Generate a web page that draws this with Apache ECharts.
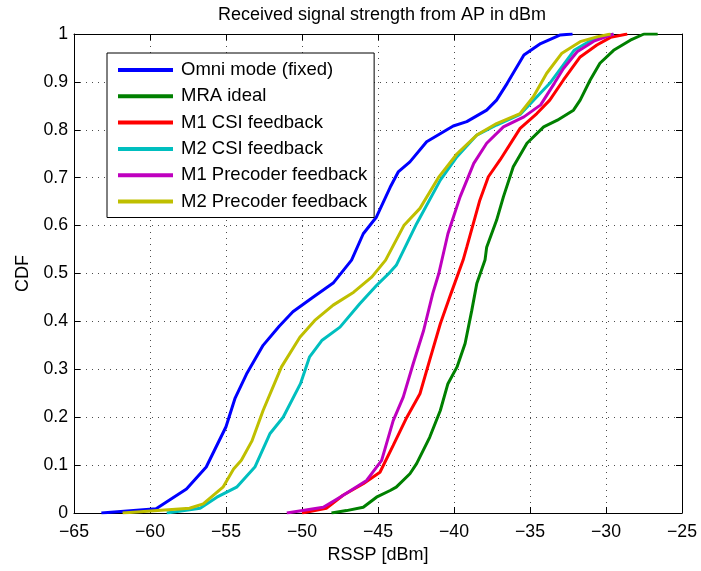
<!DOCTYPE html>
<html>
<head>
<meta charset="utf-8">
<script src="https://cdn.jsdelivr.net/npm/echarts@6/dist/echarts.min.js"></script>
<style>
html,body{margin:0;padding:0;background:#fff;}
#chart{width:701px;height:571px;}
</style>
</head>
<body>
<div id="chart"></div>
<script>
var titleText = 'Received signal strength from AP in dBm';
var xAxisName = 'RSSP [dBm]';
var yAxisName = 'CDF';
var seriesNames = ['Omni mode (fixed)', 'MRA ideal', 'M1 CSI feedback', 'M2 CSI feedback', 'M1 Precoder feedback', 'M2 Precoder feedback'];
var seriesColors = ['#0000ff', '#008000', '#ff0000', '#00bfbf', '#bf00bf', '#bfbf00'];

var omniX = [-63.2,-59.6,-57.6,-56.3,-55.0,-54.4,-53.65,-52.56,-51.5,-50.6,-49.3,-47.95,-46.74,-45.97,-45.1,-44.2,-43.67,-42.9,-41.8,-40.05,-39.16,-37.85,-37.2,-36.5,-35.4,-34.3,-33.0,-32.2];
var omniY = [0,0.009,0.05,0.096,0.18,0.24,0.29,0.35,0.39,0.42,0.45,0.48,0.528,0.583,0.618,0.68,0.712,0.733,0.775,0.808,0.817,0.841,0.862,0.897,0.956,0.98,0.998,1];

var mraX = [-48.06,-47.07,-45.97,-45.1,-44.2,-43.8,-42.9,-42.46,-41.6,-40.9,-40.4,-39.8,-39.27,-38.83,-38.5,-37.96,-37.85,-37.2,-36.75,-36.1,-35.2,-34.1,-33.2,-32.14,-31.7,-31.04,-30.4,-29.5,-28.4,-27.5,-26.6];
var mraY = [0,0.005,0.012,0.033,0.047,0.054,0.082,0.103,0.158,0.214,0.27,0.305,0.354,0.423,0.479,0.528,0.555,0.611,0.66,0.723,0.772,0.806,0.82,0.841,0.862,0.904,0.939,0.966,0.987,1,1];

var m1csiX = [-50.0,-48.4,-47.3,-45.97,-44.87,-44.0,-43.1,-42.24,-41.6,-40.9,-40.2,-39.4,-39.16,-38.3,-37.74,-36.97,-35.65,-34.55,-33.7,-32.8,-31.7,-30.6,-29.7,-28.6];
var m1csiY = [0,0.01,0.037,0.061,0.085,0.141,0.2,0.249,0.319,0.395,0.458,0.528,0.555,0.653,0.702,0.737,0.803,0.834,0.862,0.904,0.952,0.977,0.993,1];

var m2csiX = [-58.9,-56.7,-55.6,-54.3,-53.1,-52.1,-51.24,-50.1,-49.5,-48.7,-47.5,-46.2,-45.1,-44.2,-43.8,-42.46,-40.9,-39.8,-38.5,-37.2,-35.65,-33.7,-32.1,-30.8,-29.5];
var m2csiY = [0,0.01,0.033,0.054,0.096,0.166,0.2,0.27,0.326,0.36,0.388,0.437,0.475,0.503,0.517,0.604,0.695,0.744,0.789,0.81,0.832,0.897,0.966,0.99,1];

var m1preX = [-51.0,-48.6,-47.5,-45.75,-44.76,-44.0,-43.34,-42.68,-42.0,-41.4,-41.0,-40.4,-39.6,-38.7,-37.85,-36.75,-35.4,-34.3,-33.4,-32.8,-31.9,-30.8,-29.5];
var m1preY = [0,0.012,0.033,0.068,0.11,0.193,0.242,0.312,0.381,0.458,0.5,0.583,0.66,0.73,0.772,0.806,0.827,0.852,0.897,0.928,0.963,0.985,1];

var m2preX = [-61.8,-57.4,-56.5,-55.2,-54.5,-53.99,-53.3,-52.56,-51.35,-50.14,-49.16,-47.95,-46.6,-45.4,-44.5,-43.3,-42.24,-41.03,-39.8,-38.5,-37.2,-35.65,-34.78,-33.9,-32.9,-31.7,-30.6,-29.7];
var m2preY = [0,0.01,0.019,0.054,0.092,0.11,0.15,0.214,0.305,0.367,0.402,0.434,0.461,0.493,0.528,0.6,0.636,0.7,0.75,0.789,0.813,0.834,0.869,0.918,0.96,0.984,0.994,1];

var xTicks = [-65,-60,-55,-50,-45,-40,-35,-30,-25];
var yTicks = [0,0.1,0.2,0.3,0.4,0.5,0.6,0.7,0.8,0.9,1];

var allX = [omniX, mraX, m1csiX, m2csiX, m1preX, m2preX];
var allY = [omniY, mraY, m1csiY, m2csiY, m1preY, m2preY];

function zip(xs, ys){ var out=[]; for(var i=0;i<xs.length;i++) out.push([xs[i], ys[i]]); return out; }

var FONT = '"Liberation Sans", Arial, Helvetica, sans-serif';
var chart = echarts.init(document.getElementById('chart'));

var series = seriesNames.map(function(n, i){
  return {
    name: n, type: 'line', data: zip(allX[i], allY[i]),
    showSymbol: false, symbol: 'none', smooth: false,
    lineStyle: {color: seriesColors[i], width: 3},
    itemStyle: {color: seriesColors[i]},
    z: 3 + i, animation: false
  };
});

function fmtX(v){ return String(v).replace('-', '\u2212'); }
function fmtY(v){ return String(Math.round(v*10)/10); }

var gridLine = {show: true, lineStyle: {color: '#000', type: [1, 5], width: 1, opacity: 0.7}};

var option = {
  animation: false,
  backgroundColor: '#fff',
  title: {
    text: titleText, left: 377, top: 1, textAlign: 'center',
    textStyle: {fontFamily: FONT, fontSize: 18, fontWeight: 'normal', color: '#000'}
  },
  grid: {left: 74, right: 19, top: 34, bottom: 58, containLabel: false},
  legend: {
    data: seriesNames, orient: 'vertical', left: 107, top: 53,
    backgroundColor: '#fff', borderColor: '#000', borderWidth: 1,
    padding: [6, 7, 5, 11],
    icon: 'rect', itemWidth: 55, itemHeight: 4, itemGap: 4.3,
    textStyle: {fontFamily: FONT, fontSize: 18.5, color: '#000', lineHeight: 22, padding: [0,0,0,3]}
  },
  xAxis: [{
    type: 'value', min: -65, max: -25, interval: 5, position: 'bottom',
    name: xAxisName, nameLocation: 'middle', nameGap: 29,
    nameTextStyle: {fontFamily: FONT, fontSize: 18, color: '#000'},
    axisLine: {show: true, onZero: false, lineStyle: {color: '#000', width: 1}},
    axisTick: {show: true, inside: true, length: 6, lineStyle: {color: '#000'}},
    axisLabel: {formatter: fmtX, fontFamily: FONT, fontSize: 17.7, color: '#000', margin: 10},
    splitLine: gridLine
  }, {
    type: 'value', min: -65, max: -25, interval: 5, position: 'top',
    axisLine: {show: true, onZero: false, lineStyle: {color: '#000', width: 1}},
    axisTick: {show: true, inside: true, length: 6, lineStyle: {color: '#000'}},
    axisLabel: {show: false}, splitLine: {show: false}
  }],
  yAxis: [{
    type: 'value', min: 0, max: 1, interval: 0.1, position: 'left',
    name: yAxisName, nameLocation: 'middle', nameGap: 40, nameRotate: 90,
    nameTextStyle: {fontFamily: FONT, fontSize: 18, color: '#000'},
    axisLine: {show: true, onZero: false, lineStyle: {color: '#000', width: 1}},
    axisTick: {show: true, inside: true, length: 6, lineStyle: {color: '#000'}},
    axisLabel: {formatter: fmtY, fontFamily: FONT, fontSize: 17.7, color: '#000', margin: 6},
    splitLine: gridLine
  }, {
    type: 'value', min: 0, max: 1, interval: 0.1, position: 'right',
    axisLine: {show: true, onZero: false, lineStyle: {color: '#000', width: 1}},
    axisTick: {show: true, inside: true, length: 6, lineStyle: {color: '#000'}},
    axisLabel: {show: false}, splitLine: {show: false}
  }],
  series: series
};
chart.setOption(option);
</script>
</body>
</html>
